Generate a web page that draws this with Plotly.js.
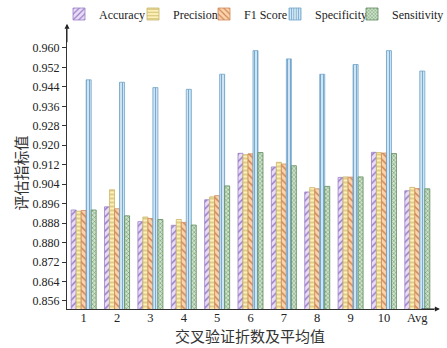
<!DOCTYPE html>
<html>
<head>
<meta charset="utf-8">
<script src="https://cdn.plot.ly/plotly-3.0.1.min.js"></script>
<style>html,body{margin:0;padding:0;background:#fff;}#chart{width:447px;height:348px;}</style>
</head>
<body>
<div id="chart"></div>
<script>
var categories = ['1','2','3','4','5','6','7','8','9','10','Avg'];
var seriesNames = ['Accuracy','Precision','F1 Score','Specificity','Sensitivity'];
var accuracy    = [0.8934, 0.8947, 0.8886, 0.8871, 0.8976, 0.9167, 0.9111, 0.9008, 0.9068, 0.9171, 0.9013];
var precision   = [0.8929, 0.9017, 0.8905, 0.8895, 0.8988, 0.9161, 0.9130, 0.9026, 0.9070, 0.9170, 0.9027];
var f1score     = [0.8932, 0.8939, 0.8899, 0.8883, 0.8993, 0.9165, 0.9123, 0.9021, 0.9069, 0.9168, 0.9022];
var specificity = [0.9469, 0.9459, 0.9437, 0.9430, 0.9492, 0.9589, 0.9555, 0.9492, 0.9532, 0.9589, 0.9505];
var sensitivity = [0.8934, 0.8910, 0.8895, 0.8872, 0.9033, 0.9170, 0.9116, 0.9031, 0.9070, 0.9166, 0.9021];
var yTicks = [0.856,0.864,0.872,0.880,0.888,0.896,0.904,0.912,0.920,0.928,0.936,0.944,0.952,0.960];
var xTitle = '交叉验证折数及平均值';
var yTitle = '评估指标值';

var values = [accuracy, precision, f1score, specificity, sensitivity];
var styles = [
  {bg:'#e8dcf6', fg:'#9b7fc8', shape:'/',  size:5},
  {bg:'#fdf1b8', fg:'#c9b56a', shape:'-',  size:4},
  {bg:'#fad3aa', fg:'#d0885a', shape:'\\', size:5},
  {bg:'#cfe5f3', fg:'#6ea3c9', shape:'|',  size:3},
  {bg:'#cfe3cc', fg:'#5e8b5c', shape:'x',  size:3}
];
var legendTextX = [101, 175, 246, 317, 394];
var font = "'Liberation Serif', 'Times New Roman', serif";
var cjk = "'Noto Sans CJK SC', sans-serif";
var traces = values.map(function(v, i){
  return {
    type:'bar', name: seriesNames[i], x: categories, y: v,
    legend: i === 0 ? 'legend' : 'legend' + (i + 1),
    marker:{color: styles[i].bg,
      pattern:{shape: styles[i].shape, bgcolor: styles[i].bg, fgcolor: styles[i].fg, size: styles[i].size, solidity:0.3},
      line:{color: styles[i].fg, width:0.8}}
  };
});
var layout = {
  width:447, height:348,
  margin:{l:67, r:13, t:7, b:39},
  paper_bgcolor:'#fff', plot_bgcolor:'#fff',
  barmode:'group', bargap:0.25, bargroupgap:0,
  font:{family: font, size:12, color:'#222'},
  showlegend:true,
  xaxis:{type:'category', range:[-0.5,10.5], showline:true, linecolor:'#333', linewidth:1,
    ticks:'', ticklen:0, ticklabelstandoff:-3, showgrid:false, zeroline:false, automargin:false,
    tickfont:{family: font, size:12.5, color:'#222'}},
  yaxis:{range:[0.8527,0.968], showline:true, linecolor:'#333', linewidth:1,
    tickvals: yTicks, ticktext: yTicks.map(function(t){return t.toFixed(3);}),
    ticks:'outside', ticklen:4, tickcolor:'#333', showgrid:false, zeroline:false, automargin:false,
    tickfont:{family: font, size:12, color:'#222'}},
  annotations:[
    {xref:'paper', yref:'paper', x:0, y:1.017, ax:0, ay:20, text:'', showarrow:true, arrowhead:2, arrowsize:1, arrowwidth:1, arrowcolor:'#222'},
    {xref:'paper', yref:'paper', x:1.016, y:0, ax:-20, ay:0, text:'', showarrow:true, arrowhead:2, arrowsize:1, arrowwidth:1, arrowcolor:'#222'},
    {xref:'paper', yref:'paper', x:0.499, y:-0.095, xanchor:'center', yanchor:'middle', showarrow:false,
      text:xTitle, font:{family: cjk, size:15, color:'#333'}},
    {xref:'paper', yref:'paper', x:-0.128, y:0.483, xanchor:'center', yanchor:'middle', showarrow:false, textangle:-90,
      text:yTitle, font:{family: cjk, size:15, color:'#333'}}
  ]
};
legendTextX.forEach(function(px, i){
  var key = i === 0 ? 'legend' : 'legend' + (i + 1);
  layout[key] = {orientation:'h', xref:'container', yref:'container', x:(px - 42)/447, xanchor:'left',
    y:1 - 14/348, yanchor:'middle', bgcolor:'rgba(0,0,0,0)', borderwidth:0,
    font:{family: font, size:12, color:'#222'}, itemwidth:30};
});
Plotly.newPlot('chart', traces, layout, {displayModeBar:false, staticPlot:true});
</script>
</body>
</html>
